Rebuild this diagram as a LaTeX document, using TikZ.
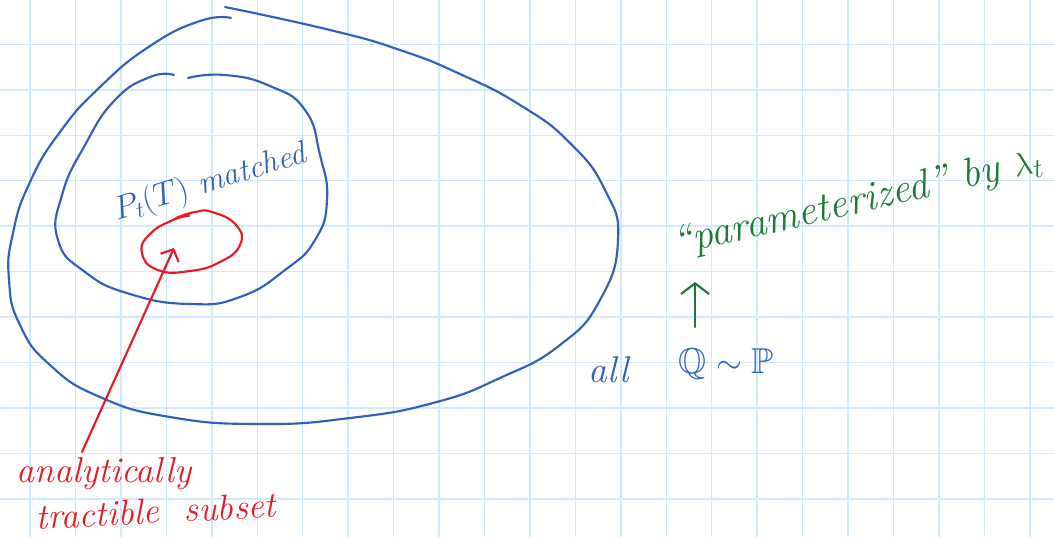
\documentclass[tikz,border=0pt]{standalone}
\usepackage{amssymb}
\usetikzlibrary{arrows.meta}
\definecolor{gridc}{RGB}{208,234,250}
\definecolor{inkblue}{RGB}{47,96,186}
\definecolor{inkred}{RGB}{232,26,36}
\definecolor{inkgreen}{RGB}{28,122,56}
\tikzset{
  gridline/.style={gridc, line width=1.1pt},
  bluestroke/.style={inkblue, line width=1.6pt, line cap=round, line join=round},
  redstroke/.style={inkred, line width=1.6pt, line cap=round, line join=round},
  greenstroke/.style={inkgreen, line width=1.6pt, line cap=round, line join=round},
  bluetext/.style={inkblue, inner sep=0pt, font=\itshape\fontsize{24}{27}\selectfont},
  redtext/.style={inkred, inner sep=0pt, font=\itshape\fontsize{27}{30}\selectfont},
  greentext/.style={inkgreen, inner sep=0pt, font=\itshape\fontsize{31}{34}\selectfont},
}
\begin{document}
\begin{tikzpicture}[x=0.75pt, y=-0.75pt]
\useasboundingbox (0,0) rectangle (1054,537);
\fill[white] (0,0) rectangle (1054,537);
% grid paper
\foreach \i in {0,...,22} \draw[gridline] ({30+45.45*\i},0) -- ({30+45.45*\i},537);
\foreach \j in {0,...,10} \draw[gridline] (0,{44.4+45.45*\j}) -- (1054,{44.4+45.45*\j});

% outer loop
\draw[bluestroke] plot[smooth, tension=0.85] coordinates {
  (231,18) (200,21) (150,46) (100,87) (60,132) (30,182) (13,233) (9,280)
  (20,325) (50,365) (100,397) (170,417) (260,424)
  (350,418) (433,403) (500,378) (560,345) (600,300)
  (618,240) (605,190) (570,143) (520,105) (460,74)
  (400,50) (330,30) (225,7)};

% inner loop
\draw[bluestroke] plot[smooth, tension=0.85] coordinates {
  (174,75) (150,77) (115,100) (85,145) (62,195) (58,240)
  (85,272) (130,294) (190,304) (240,297) (285,270)
  (315,240) (327,200) (320,155) (305,110) (270,86)
  (225,75) (188,78)};

% red loop
\draw[redstroke] plot[smooth, tension=0.85] coordinates {
  (189,216) (173,220) (150,234) (142,253) (158,270)
  (190,271) (220,262) (240,245) (236,225) (212,212)
  (195,212) (176,218)};

% labels
\node[bluetext, rotate=17] (lblP) at (210,183) {$P_t(T)$ matched};
\node[redtext] (lblA) at (104,474) {analytically};
\node[redtext, rotate=3] (lblB) at (156,511) {tractible \ subset};
\node[greentext, rotate=13] (lblG) at (858,203) {\textquotedblleft parameterized\textquotedblright\ by $\lambda_t$};
\node[bluetext, font=\itshape\fontsize{28}{30}\selectfont] (lblAll) at (609,370) {all};
\node[bluetext, font=\fontsize{27}{30}\selectfont] (lblQP) at (726,364) {$\mathbb{Q}\sim\mathbb{P}$};

% arrows
\coordinate (redtail) at (82,452);
\coordinate (redtip) at (174,248);
\draw[redstroke, -{Straight Barb[length=7pt, width=15pt]}] (redtail) -- (redtip);
\coordinate (greentail) at (695,327);
\coordinate (greentip) at (695,282);
\draw[greenstroke, -{Straight Barb[length=8pt, width=21pt]}] (greentail) -- (greentip);
\end{tikzpicture}
\end{document}
